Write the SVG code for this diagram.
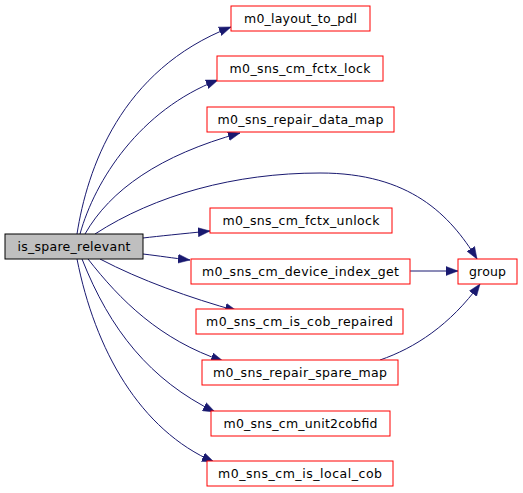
<svg xmlns="http://www.w3.org/2000/svg" width="523" height="493" viewBox="0 0 523 493">
<style>
.n rect{fill:#fff;stroke:#ff0000;stroke-width:1}
.m rect{fill:#bfbfbf;stroke:#000;stroke-width:1}
text{font-family:"DejaVu Sans",sans-serif;font-size:12.5px;text-anchor:middle;fill:#000}
.e path{fill:none;stroke:#191970;stroke-width:1;marker-end:url(#ah)}
</style>
<defs>
<marker id="ah" markerUnits="userSpaceOnUse" markerWidth="13" markerHeight="10" refX="12" refY="4.5" orient="auto" viewBox="0 0 13 9">
<path d="M0,0 L12,4.5 L0,9 Z" fill="#191970" stroke="#191970" stroke-width="0.5"/>
</marker>
</defs>
<rect width="523" height="493" fill="#fff"/>
<g id="edges" class="e">
<path d="M77,234 C87,170 120,70 231,27"/>
<path d="M80,234 C95,180 140,110 218,80"/>
<path d="M85,234 C110,190 160,155 240,133"/>
<path d="M95,234 C155,195 235,173 320,173 C410,173 450,215 477,259"/>
<path d="M143,238 C160,236 180,234 210,231"/>
<path d="M143,254 C160,256 172,258 190,260"/>
<path d="M100,259 C140,280 190,298 237,311"/>
<path d="M88,259 C120,300 160,340 223,361"/>
<path d="M82,259 C110,330 150,380 215,412"/>
<path d="M77,259 C95,350 140,430 214,462"/>
<path d="M410,271 L458,271"/>
<path d="M380,360 C415,348 450,325 480,284"/>
</g>
<g id="is_spare_relevant" class="m"><rect x="5" y="234" width="138" height="25"/><text x="74" y="251" textLength="113" lengthAdjust="spacing">is_spare_relevant</text></g>
<g id="m0_layout_to_pdl" class="n"><rect x="231" y="6" width="139" height="25"/><text x="300.5" y="23" textLength="113" lengthAdjust="spacing">m0_layout_to_pdl</text></g>
<g id="m0_sns_cm_fctx_lock" class="n"><rect x="217" y="56" width="166" height="25"/><text x="300" y="73" textLength="141" lengthAdjust="spacing">m0_sns_cm_fctx_lock</text></g>
<g id="m0_sns_repair_data_map" class="n"><rect x="207" y="107" width="187" height="25"/><text x="300.5" y="124" textLength="166" lengthAdjust="spacing">m0_sns_repair_data_map</text></g>
<g id="m0_sns_cm_fctx_unlock" class="n"><rect x="210" y="208" width="182" height="25"/><text x="301" y="225" textLength="157" lengthAdjust="spacing">m0_sns_cm_fctx_unlock</text></g>
<g id="m0_sns_cm_device_index_get" class="n"><rect x="191" y="259" width="219" height="25"/><text x="300.5" y="276" textLength="197" lengthAdjust="spacing">m0_sns_cm_device_index_get</text></g>
<g id="m0_sns_cm_is_cob_repaired" class="n"><rect x="196" y="309" width="207" height="25"/><text x="299.5" y="326" textLength="187" lengthAdjust="spacing">m0_sns_cm_is_cob_repaired</text></g>
<g id="m0_sns_repair_spare_map" class="n"><rect x="202" y="360" width="196" height="25"/><text x="300" y="377" textLength="174" lengthAdjust="spacing">m0_sns_repair_spare_map</text></g>
<g id="m0_sns_cm_unit2cobfid" class="n"><rect x="211" y="411" width="179" height="25"/><text x="300.5" y="428" textLength="154" lengthAdjust="spacing">m0_sns_cm_unit2cobfid</text></g>
<g id="m0_sns_cm_is_local_cob" class="n"><rect x="207" y="461" width="186" height="25"/><text x="300" y="478" textLength="164" lengthAdjust="spacing">m0_sns_cm_is_local_cob</text></g>
<g id="group" class="n"><rect x="458" y="259" width="59" height="25"/><text x="487.5" y="276" textLength="37" lengthAdjust="spacing">group</text></g>
</svg>
